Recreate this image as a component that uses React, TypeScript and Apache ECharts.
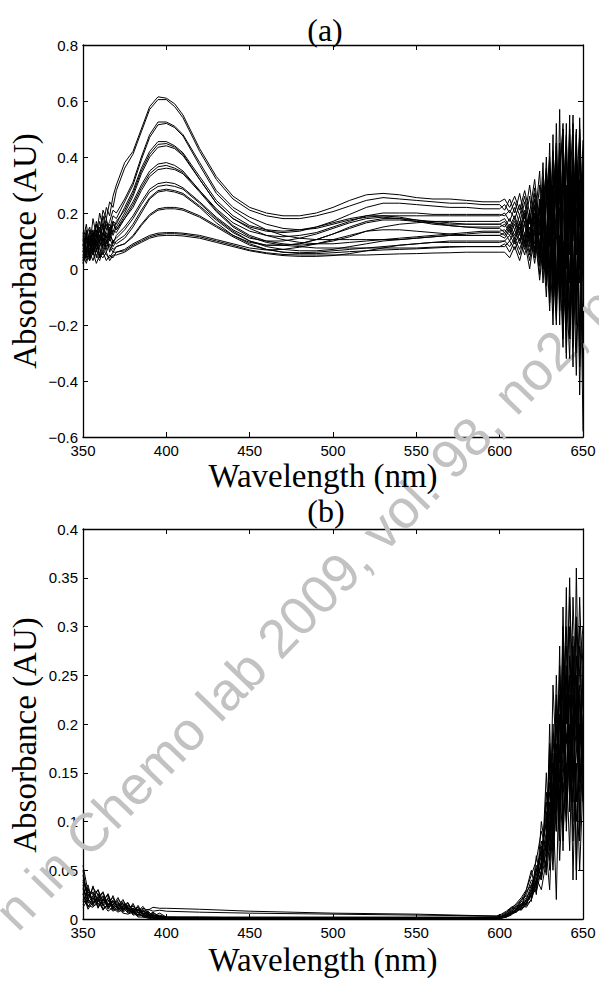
import React, { useEffect, useRef } from "react";
import * as echarts from "echarts";

// ---------- Panel (a): wavelengths (nm) ----------
const wlA = [
  350, 352, 354, 356, 358, 360, 362, 364, 366, 368, 370,
  375, 380, 385, 390, 395, 400, 405, 410, 420, 430, 440, 450, 460, 470, 480, 490, 500, 510, 520, 530, 540, 550, 560, 570, 580, 590, 600,
  603, 606, 609, 612, 615, 618, 621, 624, 626, 628, 630, 632, 634, 636, 638, 640, 642, 644, 646, 648, 650,
];

// ---------- Panel (a): absorbance spectra (AU) ----------
const specA01 = [.10,.16,.08,.18,.12,.20,.15,.22,.19,.26,.30, .38,.42,.50,.58,.615,.61,.59,.55,.43,.33,.26,.22,.20,.19,.19,.20,.22,.245,.265,.27,.265,.255,.25,.25,.245,.24,.24, .25,.22,.26,.21,.28,.20,.32,.15,.38,.05,.45,-.05,.52,.02,.40,.10,.48,-.10,.35,.20,.30];
const specA02 = [.06,.12,.15,.09,.17,.13,.21,.18,.24,.22,.28, .36,.41,.49,.57,.605,.605,.58,.54,.42,.32,.25,.21,.19,.18,.18,.19,.205,.225,.245,.255,.25,.245,.24,.235,.235,.23,.23, .21,.25,.20,.27,.18,.30,.16,.35,.10,.40,.00,.48,-.08,.57,-.15,.46,.05,.55,-.20,.42,.10];
const specA03 = [.12,.05,.14,.10,.16,.11,.19,.14,.17,.21,.20, .25,.31,.40,.48,.525,.525,.51,.48,.38,.28,.22,.185,.16,.145,.14,.145,.16,.175,.185,.19,.19,.19,.19,.19,.19,.19,.19, .20,.17,.22,.16,.24,.12,.27,.08,.30,.02,.36,-.10,.44,-.02,.50,-.20,.38,.12,.49,-.30,.25];
const specA04 = [.04,.10,.07,.13,.09,.15,.12,.17,.14,.19,.18, .24,.30,.39,.47,.515,.52,.505,.475,.37,.27,.21,.17,.14,.12,.11,.105,.105,.105,.105,.105,.105,.11,.115,.12,.125,.13,.13, .12,.15,.11,.16,.09,.19,.06,.24,-.02,.30,-.08,.34,-.15,.42,-.05,.52,-.25,.40,-.12,.30,-.40];
const specA05 = [.08,.14,.05,.12,.16,.10,.13,.18,.12,.17,.16, .22,.28,.36,.42,.455,.455,.44,.415,.33,.245,.19,.155,.14,.135,.14,.15,.17,.195,.22,.235,.235,.23,.225,.22,.22,.215,.215, .23,.20,.24,.19,.26,.16,.29,.12,.33,.05,.38,.12,.30,-.10,.45,.00,.55,-.18,.38,.15,.46];
const specA06 = [.13,.07,.11,.06,.14,.09,.16,.11,.15,.13,.17, .21,.27,.35,.41,.445,.448,.435,.41,.32,.235,.18,.145,.12,.105,.095,.09,.09,.095,.10,.105,.11,.115,.12,.125,.13,.135,.135, .14,.12,.16,.10,.17,.08,.20,.04,.26,-.04,.32,.08,.20,.35,-.20,.30,-.05,.45,-.30,.50,.00];
const specA07 = [.05,.09,.13,.08,.11,.17,.10,.14,.16,.12,.15, .20,.26,.34,.40,.435,.44,.43,.405,.32,.235,.18,.15,.135,.13,.135,.15,.165,.18,.19,.19,.185,.175,.165,.155,.15,.145,.145, .13,.16,.12,.17,.10,.20,.07,.22,.00,.28,-.12,.25,.40,-.15,.28,-.32,.35,.10,.50,-.45,.20];
const specA08 = [.09,.04,.10,.14,.07,.12,.15,.09,.13,.17,.14, .19,.24,.30,.35,.375,.38,.37,.35,.28,.21,.155,.12,.10,.09,.085,.09,.10,.115,.135,.15,.16,.165,.17,.17,.17,.17,.17, .18,.15,.19,.14,.21,.11,.25,.06,.30,-.02,.20,.38,-.05,.30,.52,-.10,.22,-.35,.40,.05,-.20];
const specA09 = [.03,.11,.06,.09,.13,.08,.12,.16,.11,.14,.13, .18,.23,.29,.34,.365,.37,.36,.345,.28,.215,.165,.135,.12,.115,.12,.13,.15,.17,.19,.20,.20,.20,.195,.195,.195,.195,.195, .19,.21,.18,.23,.16,.26,.13,.30,.06,.26,.40,.00,.35,-.20,.25,.48,-.15,.36,-.05,.54,.10];
const specA10 = [.11,.06,.12,.05,.10,.14,.08,.13,.10,.16,.14, .18,.22,.28,.33,.355,.36,.355,.34,.275,.205,.15,.115,.095,.085,.08,.075,.075,.075,.075,.075,.075,.075,.078,.08,.08,.08,.08, .09,.06,.10,.05,.12,.03,.15,-.02,.20,-.06,.25,-.10,.18,.36,-.22,.15,.42,-.28,.22,-.05,.38];
const specA11 = [.07,.13,.04,.11,.08,.12,.07,.10,.14,.09,.12, .15,.19,.24,.285,.305,.31,.305,.29,.24,.185,.14,.11,.10,.10,.11,.125,.145,.165,.18,.185,.18,.17,.16,.155,.15,.15,.15, .16,.13,.17,.12,.19,.09,.22,.05,.16,.32,-.04,.20,.45,-.12,.10,-.30,.28,.52,-.08,.26,-.58];
const specA12 = [.02,.08,.11,.06,.12,.05,.11,.08,.12,.10,.11, .14,.18,.23,.275,.295,.30,.295,.285,.235,.18,.135,.10,.08,.07,.065,.065,.07,.08,.09,.10,.105,.11,.115,.12,.12,.12,.12, .11,.14,.10,.15,.08,.18,.05,.21,.00,.14,.28,-.15,.10,.36,.50,-.05,-.32,.20,.44,-.22,.15];
const specA13 = [.10,.05,.09,.13,.06,.10,.13,.07,.11,.08,.10, .12,.16,.21,.255,.28,.285,.28,.27,.225,.175,.13,.10,.085,.085,.09,.105,.125,.15,.17,.18,.18,.175,.17,.165,.16,.16,.16, .17,.14,.18,.13,.20,.10,.23,.07,.27,.12,-.06,.30,-.18,.22,-.25,.40,.15,-.20,.30,.48,-.10];
const specA14 = [.06,.12,.03,.08,.10,.04,.09,.12,.06,.10,.09, .11,.15,.20,.25,.275,.28,.275,.265,.22,.165,.12,.09,.07,.06,.058,.06,.065,.07,.075,.08,.085,.09,.095,.10,.10,.10,.10, .10,.12,.09,.13,.07,.15,.04,.18,.10,-.04,.22,.05,-.20,.28,.08,-.18,.45,.05,-.38,.12,.35];
const specA15 = [.04,.07,.10,.05,.09,.07,.05,.10,.08,.06,.08, .09,.12,.16,.195,.215,.22,.22,.215,.19,.155,.12,.095,.085,.085,.09,.105,.125,.145,.165,.175,.175,.17,.165,.16,.16,.16,.16, .15,.18,.14,.19,.12,.21,.09,.25,.16,.36,.08,.42,.25,-.10,.34,.10,-.25,.30,.05,.40,.18];
const specA16 = [.09,.03,.07,.10,.04,.08,.11,.06,.09,.07,.08, .09,.115,.155,.19,.21,.215,.215,.21,.185,.15,.115,.085,.07,.06,.055,.055,.058,.062,.065,.068,.07,.072,.075,.078,.08,.08,.08, .08,.10,.07,.11,.05,.13,.02,.16,-.05,.10,-.15,.15,.30,.05,-.28,.24,-.05,.38,-.15,.25,-.30];
const specA17 = [.03,.06,.04,.08,.05,.03,.07,.05,.04,.06,.06, .07,.09,.105,.12,.128,.13,.13,.128,.12,.105,.09,.075,.068,.07,.078,.09,.105,.12,.135,.14,.14,.135,.13,.125,.12,.12,.12, .13,.10,.14,.09,.16,.06,.19,.02,.24,.35,.10,-.20,.20,-.08,.40,.25,-.22,.12,.28,-.35,.42];
const specA18 = [.05,.02,.06,.03,.07,.04,.06,.03,.05,.04,.06, .065,.085,.10,.115,.123,.126,.126,.124,.115,.10,.085,.068,.058,.052,.05,.05,.05,.05,.05,.052,.054,.055,.057,.058,.06,.06,.06, .06,.04,.08,.03,.10,.00,.13,-.04,.08,-.10,.15,.30,-.12,.12,-.05,.20,.50,-.15,.10,.32,-.25];
const specA19 = [.02,.05,.03,.06,.02,.05,.04,.06,.03,.05,.05, .06,.08,.095,.11,.118,.12,.12,.118,.11,.095,.08,.065,.055,.048,.045,.045,.048,.055,.065,.075,.085,.09,.095,.095,.095,.095,.095, .10,.08,.11,.07,.13,.05,.16,.01,.20,.08,.30,-.02,.15,.45,.00,-.22,.30,-.08,.48,.00,.20];

const spectraA = [specA01, specA02, specA03, specA04, specA05, specA06, specA07, specA08, specA09, specA10, specA11, specA12, specA13, specA14, specA15, specA16, specA17, specA18, specA19];

// ---------- Panel (b): wavelengths (nm) ----------
const wlB = [
  350, 353, 356, 359, 362, 365, 368, 371, 374, 377, 380, 383, 386, 389, 392, 396, 400,
  420, 450, 500, 550, 598,
  601, 604, 607, 610, 613, 616, 619, 622, 625, 628, 630, 632, 634, 636, 638, 640, 642, 644, 646, 648, 650,
];

// ---------- Panel (b): absorbance spectra (AU) ----------
const specB01 = [.030,.022,.028,.018,.024,.015,.019,.012,.016,.010,.013,.008,.011,.009,.012,.011,.011, .010,.008,.006,.005,.003, .005,.008,.012,.015,.020,.028,.035,.050,.070,.100,.150,.120,.220,.160,.280,.200,.330,.240,.300,.180,.250];
const specB02 = [.045,.020,.032,.025,.014,.022,.016,.018,.010,.014,.009,.012,.007,.010,.008,.009,.008, .007,.006,.005,.004,.003, .004,.007,.010,.016,.022,.030,.045,.060,.090,.070,.180,.100,.250,.140,.200,.300,.150,.330,.220,.280,.160];
const specB03 = [.055,.028,.020,.030,.018,.026,.012,.020,.015,.008,.016,.006,.010,.004,.006,.003,.002, .002,.002,.002,.002,.002, .003,.006,.012,.010,.018,.025,.040,.035,.060,.120,.090,.200,.130,.260,.170,.230,.120,.280,.190,.330,.220];
const specB04 = [.025,.035,.015,.022,.028,.012,.024,.010,.018,.012,.006,.014,.005,.008,.003,.004,.002, .002,.001,.001,.001,.002, .003,.005,.008,.012,.015,.022,.030,.055,.045,.080,.140,.060,.200,.110,.320,.140,.250,.100,.360,.150,.290];
const specB05 = [.018,.030,.025,.012,.020,.024,.010,.016,.008,.014,.010,.004,.009,.005,.002,.003,.001, .001,.001,.001,.001,.001, .002,.004,.007,.010,.014,.018,.025,.040,.080,.050,.110,.160,.090,.210,.130,.280,.180,.230,.120,.260,.300];
const specB06 = [.035,.016,.024,.030,.013,.018,.022,.009,.014,.017,.007,.010,.006,.004,.007,.002,.001, .001,.001,.001,.001,.001, .002,.005,.009,.014,.012,.020,.035,.028,.050,.130,.070,.240,.160,.120,.300,.200,.350,.150,.220,.110,.240];
const specB07 = [.040,.026,.018,.020,.027,.014,.017,.013,.020,.009,.011,.008,.013,.005,.003,.006,.002, .001,.001,.001,.001,.001, .002,.003,.006,.009,.016,.014,.028,.045,.065,.100,.050,.140,.180,.080,.220,.120,.270,.190,.310,.090,.200];
const specB08 = [.022,.018,.034,.015,.019,.025,.011,.015,.012,.016,.008,.012,.004,.007,.004,.002,.001, .001,.001,.001,.001,.001, .001,.004,.006,.008,.013,.020,.022,.038,.055,.090,.160,.070,.120,.250,.100,.190,.140,.290,.050,.230,.170];
const specB09 = [.028,.032,.014,.026,.016,.020,.014,.022,.011,.010,.014,.006,.008,.003,.005,.001,.001, .001,.000,.000,.000,.001, .002,.005,.010,.013,.018,.015,.032,.050,.040,.070,.030,.120,.020,.180,.240,.090,.200,.080,.160,.050,.140];
const specB10 = [.015,.024,.021,.017,.023,.010,.019,.012,.009,.013,.006,.009,.005,.006,.002,.002,.001, .000,.000,.000,.001,.001, .001,.003,.005,.011,.009,.016,.025,.030,.075,.055,.120,.090,.170,.060,.140,.100,.230,.040,.190,.130,.210];
const specB11 = [.032,.012,.022,.013,.017,.020,.009,.013,.016,.007,.009,.010,.003,.004,.001,.001,.000, .000,.000,.000,.000,.001, .001,.002,.008,.012,.020,.024,.018,.065,.040,.150,.080,.190,.110,.280,.070,.250,.120,.180,.270,.140,.190];
const specB12 = [.012,.020,.016,.023,.010,.015,.013,.008,.012,.006,.008,.004,.006,.002,.002,.001,.000, .000,.000,.000,.000,.000, .001,.004,.007,.009,.011,.030,.050,.025,.100,.065,.200,.075,.150,.090,.260,.110,.300,.130,.170,.240,.120];
const specB13 = [.020,.014,.012,.019,.015,.008,.012,.017,.007,.011,.005,.007,.002,.003,.001,.000,.000, .000,.000,.000,.000,.000, .001,.003,.006,.007,.015,.012,.020,.042,.030,.060,.100,.050,.130,.210,.080,.160,.070,.210,.100,.180,.260];
const specB14 = [.038,.024,.027,.011,.021,.012,.015,.010,.013,.008,.010,.003,.004,.002,.001,.000,.000, .000,.000,.000,.000,.000, .001,.002,.004,.010,.010,.017,.028,.035,.058,.110,.060,.170,.090,.230,.150,.340,.110,.260,.040,.200,.150];
const specB15 = [.026,.010,.018,.021,.009,.016,.011,.007,.010,.012,.004,.005,.003,.001,.002,.000,.000, .000,.000,.000,.000,.000, .001,.003,.005,.008,.010,.014,.020,.035,.048,.085,.130,.100,.230,.120,.190,.260,.160,.120,.250,.080,.180];
const specB16 = [.050,.019,.013,.016,.011,.013,.008,.011,.006,.005,.007,.002,.002,.001,.000,.000,.000, .000,.000,.000,.000,.000, .001,.002,.005,.007,.012,.019,.024,.050,.070,.045,.170,.130,.210,.100,.270,.180,.250,.140,.200,.300,.130];

const spectraB = [specB01, specB02, specB03, specB04, specB05, specB06, specB07, specB08, specB09, specB10, specB11, specB12, specB13, specB14, specB15, specB16];

// ---------- Axis settings ----------
const xTicks = { min: 350, max: 650, interval: 50 };
const yTicksA = { min: -0.6, max: 0.8, interval: 0.2 };
const yTicksB = { min: 0, max: 0.4, interval: 0.05 };

const SANS = "Liberation Sans";
const SERIF = "Liberation Serif";

const fmt = (v: number) => {
  const r = Math.round(v * 1000) / 1000;
  if (r === 0) return "0";
  return r < 0 ? "\u2212" + String(-r) : String(r);
};

export default function App() {
  const ref = useRef<HTMLDivElement>(null);

  useEffect(() => {
    if (!ref.current) return;
    const chart = echarts.init(ref.current, undefined, { renderer: "svg" });

    const axisLine = { show: true, onZero: false, lineStyle: { color: "#000", width: 1.3 } };
    const axisTick = { show: true, inside: true, length: 5, lineStyle: { color: "#000", width: 1 } };
    const label = { color: "#000", fontSize: 15, fontFamily: SANS };

    const xAxis = [0, 1].flatMap((g) => [
      {
        type: "value", gridIndex: g, position: "bottom", ...xTicks,
        axisLine, axisTick, splitLine: { show: false },
        axisLabel: { ...label, margin: 6, formatter: fmt },
      },
      {
        type: "value", gridIndex: g, position: "top", ...xTicks,
        axisLine, axisTick, splitLine: { show: false }, axisLabel: { show: false },
      },
    ]);

    const yAxis = [yTicksA, yTicksB].flatMap((t, g) => [
      {
        type: "value", gridIndex: g, position: "left", ...t,
        axisLine, axisTick, splitLine: { show: false },
        axisLabel: { ...label, margin: 5, formatter: fmt },
      },
      {
        type: "value", gridIndex: g, position: "right", ...t,
        axisLine, axisTick, splitLine: { show: false }, axisLabel: { show: false },
      },
    ]);

    const mk = (wl: number[], vals: number[], g: number) => ({
      type: "line",
      xAxisIndex: g * 2,
      yAxisIndex: g * 2,
      data: wl.map((w, i) => [w, vals[i]]),
      symbol: "none",
      silent: true,
      lineStyle: { color: "#000", width: 1 },
      z: 3,
    });

    const series = [
      ...spectraA.map((s) => mk(wlA, s, 0)),
      ...spectraB.map((s) => mk(wlB, s, 1)),
    ];

    const txt = (text: string, x: number, y: number, rot = 0, size = 33) => ({
      type: "text", x, y, rotation: rot, silent: true, z: 10,
      style: {
        text, fontSize: size, fontFamily: SERIF, fill: "#000",
        textAlign: "center", textVerticalAlign: "middle",
      },
    });

    chart.setOption({
      animation: false,
      backgroundColor: "#fff",
      grid: [
        { left: 83, top: 45, width: 500, height: 392, containLabel: false },
        { left: 83, top: 529, width: 500, height: 390, containLabel: false },
      ],
      xAxis,
      yAxis,
      series,
      graphic: [
        {
          type: "text", x: 4, y: 920, rotation: (46 * Math.PI) / 180, silent: true, z: 1,
          style: {
            text: "n in Chemo lab 2009, vol. 98, no2, p",
            fontSize: 54, fontFamily: SANS, fill: "#c2c2c2",
            textAlign: "left", textVerticalAlign: "middle",
          },
        },
        txt("(a)", 325, 30, 0, 32),
        txt("Wavelength (nm)", 323, 476),
        txt("Absorbance (AU)", 25, 251, Math.PI / 2),
        txt("(b)", 326, 511, 0, 32),
        txt("Wavelength (nm)", 323, 960),
        txt("Absorbance (AU)", 25, 735, Math.PI / 2),
      ],
    });

    return () => chart.dispose();
  }, []);

  return (
    <div
      ref={ref}
      style={{ position: "absolute", left: 0, top: 0, width: 599, height: 982, background: "#fff" }}
    />
  );
}
